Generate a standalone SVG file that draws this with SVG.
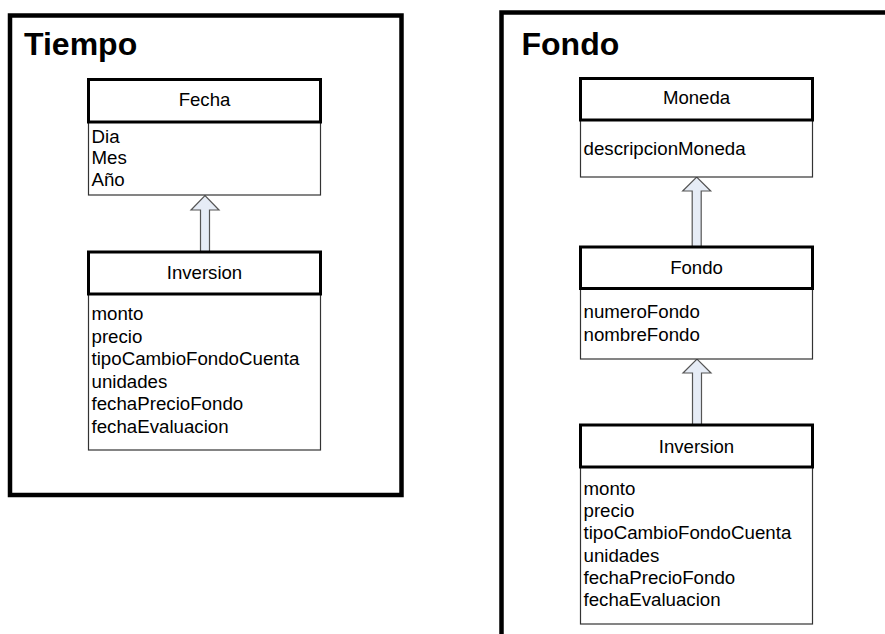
<svg xmlns="http://www.w3.org/2000/svg" width="885" height="634" viewBox="0 0 885 634">
  <style>
    text { font-family: "Liberation Sans", Arial, sans-serif; fill: #000; }
    .frame { fill: none; stroke: #000; stroke-width: 4.5; }
    .title { font-size: 32px; font-weight: bold; }
    .head { fill: #fff; stroke: #000; stroke-width: 3; }
    .body { fill: #fff; stroke: #333; stroke-width: 1.2; }
    .name { font-size: 18.6px; text-anchor: middle; }
    .attr { font-size: 18.7px; }
    .gen { fill: #e6ecf6; stroke: #555; stroke-width: 1.2; stroke-linejoin: miter; }
  </style>
  <rect width="885" height="634" fill="#fff"/>

  <!-- package frames -->
  <g id="pkg-tiempo">
    <rect class="frame" x="10" y="15.5" width="391.5" height="479.5"/>
    <text class="title" x="24" y="55">Tiempo</text>
  </g>
  <g id="pkg-fondo">
    <rect class="frame" x="501.5" y="12.5" width="400" height="640" stroke-width="5"/>
    <text class="title" x="521.5" y="55">Fondo</text>
  </g>

  <!-- generalization arrows -->
  <g id="connectors">
    <polygon class="gen" points="200.5,252 200.5,210 191,210 205,195.5 219,210 209.5,210 209.5,252"/>
    <polygon class="gen" points="692.2,247 692.2,191 682.7,191 696.7,177 710.7,191 701.2,191 701.2,247"/>
    <polygon class="gen" points="692.5,425 692.5,373 683,373 697,359 711,373 701.5,373 701.5,425"/>
  </g>

  <!-- Tiempo package classes -->
  <g id="fecha">
    <rect class="body" x="88.5" y="122" width="232" height="73"/>
    <rect class="head" x="88.5" y="79.5" width="232" height="42.5"/>
    <text class="name" x="204.5" y="105.5">Fecha</text>
    <text class="attr" x="91.5" y="142.7">Dia</text>
    <text class="attr" x="91.5" y="164.2">Mes</text>
    <text class="attr" x="91.5" y="185.7">Año</text>
  </g>
  <g id="inversion-tiempo">
    <rect class="body" x="88.5" y="294" width="232" height="156"/>
    <rect class="head" x="88.5" y="252" width="232" height="42"/>
    <text class="name" x="204.5" y="279">Inversion</text>
    <text class="attr" x="91.5" y="320.3">monto</text>
    <text class="attr" x="91.5" y="342.8">precio</text>
    <text class="attr" x="91.5" y="365.3">tipoCambioFondoCuenta</text>
    <text class="attr" x="91.5" y="387.8">unidades</text>
    <text class="attr" x="91.5" y="410.3">fechaPrecioFondo</text>
    <text class="attr" x="91.5" y="432.8">fechaEvaluacion</text>
  </g>

  <!-- Fondo package classes -->
  <g id="moneda">
    <rect class="body" x="580.5" y="120" width="232" height="57"/>
    <rect class="head" x="580.5" y="78.5" width="232" height="41.5"/>
    <text class="name" x="696.5" y="104.3">Moneda</text>
    <text class="attr" x="583.5" y="155">descripcionMoneda</text>
  </g>
  <g id="fondo">
    <rect class="body" x="580.5" y="288.5" width="232" height="70.5"/>
    <rect class="head" x="580.5" y="247" width="232" height="41.5"/>
    <text class="name" x="696.5" y="274">Fondo</text>
    <text class="attr" x="583.5" y="318">numeroFondo</text>
    <text class="attr" x="583.5" y="340.7">nombreFondo</text>
  </g>
  <g id="inversion-fondo">
    <rect class="body" x="580.5" y="467" width="232" height="157"/>
    <rect class="head" x="580.5" y="425" width="232" height="42"/>
    <text class="name" x="696.5" y="452.7">Inversion</text>
    <text class="attr" x="583.5" y="495">monto</text>
    <text class="attr" x="583.5" y="517.2">precio</text>
    <text class="attr" x="583.5" y="539.4">tipoCambioFondoCuenta</text>
    <text class="attr" x="583.5" y="561.6">unidades</text>
    <text class="attr" x="583.5" y="583.8">fechaPrecioFondo</text>
    <text class="attr" x="583.5" y="606">fechaEvaluacion</text>
  </g>
</svg>
